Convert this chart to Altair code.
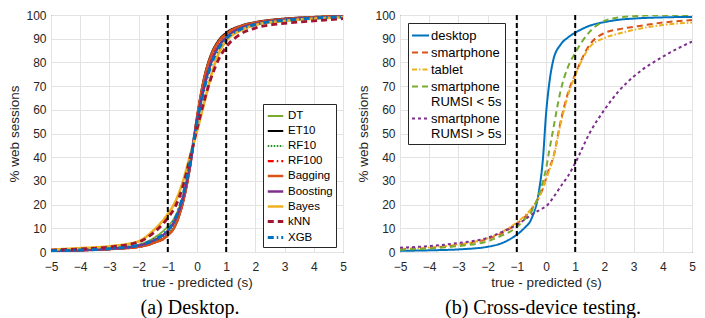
import altair as alt
import pandas as pd

# ---------------- data ----------------
X_L = [-5, -4, -3, -2, -1.5, -1, -0.75, -0.5, -0.25, 0, 0.25, 0.5, 0.75, 1, 1.5, 2, 3, 4, 5]
DT       = [0.5, 0.9, 1.6, 3.1, 5.8, 10.8, 15, 23, 36, 54, 69, 80, 86.5, 90, 94, 96, 98, 98.8, 99.3]
ET10     = [0.4, 0.7, 1.2, 2.2, 3.8, 7.2, 11, 20, 35, 57, 74, 84, 89.5, 92.5, 95.5, 97, 98.5, 99.2, 99.6]
RF10     = [0.5, 0.8, 1.3, 2.4, 4.2, 7.8, 12, 21, 36, 56, 72, 82, 88, 91.5, 95, 96.5, 98.2, 99, 99.4]
RF100    = [0.4, 0.7, 1.2, 2.1, 3.7, 7.0, 11, 20, 35, 56.5, 73, 83, 88.8, 92, 95.2, 96.7, 98.3, 99, 99.5]
BAGGING  = [0.4, 0.7, 1.2, 2.2, 3.8, 7.0, 11, 20, 35, 57, 73.5, 83.5, 89, 92, 95.3, 96.8, 98.3, 99.1, 99.5]
BOOSTING = [0.5, 0.8, 1.4, 2.7, 4.8, 9.0, 13.5, 22, 36, 55, 70, 80.5, 87, 90.5, 94.5, 96.2, 98, 98.8, 99.3]
BAYES    = [1.0, 1.6, 2.4, 4.5, 9.0, 16, 21, 29, 40, 51, 63, 75, 84, 89, 93.5, 95.8, 97.5, 98.5, 99]
KNN      = [0.8, 1.3, 2.1, 4.2, 8.0, 14.4, 19, 27, 39, 52, 64, 74, 81.5, 86.5, 92, 94.5, 96.5, 97.5, 98.5]
XGB      = [0.5, 0.8, 1.4, 2.8, 5.0, 9.4, 14, 23, 37, 55, 69, 79.5, 86, 90, 94, 96, 97.8, 98.7, 99.2]

LEFT_NAMES = ["DT", "ET10", "RF10", "RF100", "Bagging", "Boosting", "Bayes", "kNN", "XGB"]
LEFT_VALUES = [DT, ET10, RF10, RF100, BAGGING, BOOSTING, BAYES, KNN, XGB]
LEFT_COLORS = ["#77AC30", "#000000", "#1E8C1E", "#FF0000", "#D95319", "#7E2F8E", "#EDB120", "#A2142F", "#0072BD"]
LEFT_DASHES = [[1, 0], [1, 0], [1.5, 1.5], [6, 3, 1.5, 3], [1, 0], [1, 0], [1, 0], [6, 4], [6, 3, 1.5, 3]]
LEFT_WIDTHS = [1.8, 3, 1.8, 1.8, 1.8, 1.8, 1.8, 1.8, 1.8]

X_R = [-5, -4, -3, -2, -1.5, -1, -0.75, -0.5, -0.25, -0.1, 0, 0.1, 0.25, 0.5, 0.75, 1, 1.5, 2, 2.5, 3, 4, 5]
DESKTOP    = [0.5, 0.7, 1.1, 2.2, 3.8, 7.3, 10, 14, 25, 40, 58, 70, 81, 87.5, 90.5, 92.5, 95.5, 97, 98, 98.5, 99, 99.2]
SMARTPHONE = [1.2, 1.8, 3, 5.5, 8, 12, 14.5, 18, 23, 27, 31, 35, 40, 55, 67, 75, 87.5, 92.4, 94, 95, 96.8, 97.9]
TABLET     = [1.3, 1.9, 3.2, 5.8, 8.5, 12.5, 15, 18.3, 23, 27, 30.5, 34, 39.5, 54, 66, 74.5, 86.5, 90.3, 92.2, 93.7, 95.8, 96.8]
SP_FAST    = [1, 1.5, 2.5, 4.5, 7, 10.5, 13.5, 17, 24, 30, 35, 42, 52, 68, 78, 84, 93, 97.5, 99, 99.5, 100, 100]
SP_SLOW    = [1.8, 2.5, 3.8, 6, 8.5, 11.5, 13.5, 15.7, 17.5, 18.5, 19.2, 20.5, 23, 27.6, 32, 37.5, 50.3, 60, 68, 74, 82.4, 88.8]

RIGHT_NAMES = ["desktop", "smartphone", "tablet", "smartphone RUMSI < 5s", "smartphone RUMSI > 5s"]
RIGHT_VALUES = [DESKTOP, SMARTPHONE, TABLET, SP_FAST, SP_SLOW]
RIGHT_COLORS = ["#0072BD", "#D95319", "#EDB120", "#77AC30", "#7E2F8E"]
RIGHT_DASHES = [[1, 0], [6, 4], [5, 2, 1.5, 2], [6, 4], [3, 3]]
RIGHT_WIDTHS = [2, 2, 2, 2, 2]

VLINES = [-1, 1]
X_TICKS = [-5, -4, -3, -2, -1, 0, 1, 2, 3, 4, 5]
Y_TICKS = [0, 10, 20, 30, 40, 50, 60, 70, 80, 90, 100]

X_TITLE = "true - predicted (s)"
Y_TITLE = "% web sessions"

# ---------------- tables ----------------
left_rows = []
for name, vals in zip(LEFT_NAMES, LEFT_VALUES):
    for xv, yv in zip(X_L, vals):
        left_rows.append({"model": name, "x": xv, "y": yv})
df_left = pd.DataFrame(left_rows)

right_rows = []
for name, vals in zip(RIGHT_NAMES, RIGHT_VALUES):
    for xv, yv in zip(X_R, vals):
        right_rows.append({"device": name, "x": xv, "y": yv})
df_right = pd.DataFrame(right_rows)

df_v = pd.DataFrame({"x": VLINES})

W, H = 292, 237


def xenc():
    return alt.X("x:Q", scale=alt.Scale(domain=[-5, 5], nice=False),
                 axis=alt.Axis(values=X_TICKS, title=X_TITLE, labelPadding=9, titlePadding=3,
                               labelOverlap=False, labelFlush=False))


def yenc():
    return alt.Y("y:Q", scale=alt.Scale(domain=[0, 100], nice=False),
                 axis=alt.Axis(values=Y_TICKS, title=Y_TITLE, labelPadding=5, titlePadding=4,
                               labelOverlap=False))


def panel(df, field, names, colors, dashes, widths, legend, caption, dx):
    lines = alt.Chart(df).mark_line(interpolate="monotone", clip=True).encode(
        x=xenc(), y=yenc(),
        color=alt.Color(f"{field}:N", scale=alt.Scale(domain=names, range=colors), legend=legend),
        strokeDash=alt.StrokeDash(f"{field}:N", scale=alt.Scale(domain=names, range=dashes), legend=legend),
        strokeWidth=alt.StrokeWidth(f"{field}:N", scale=alt.Scale(domain=names, range=widths), legend=legend),
    )
    rules = alt.Chart(df_v).mark_rule(color="black", strokeWidth=2, strokeDash=[5, 3]).encode(x=xenc())
    return alt.layer(lines, rules).properties(
        width=W, height=H,
        title=alt.TitleParams(caption, orient="bottom", font="Liberation Serif", fontSize=20,
                              fontWeight="normal", color="black", offset=9, frame="group", dx=dx),
    )


left_legend = alt.Legend(orient="none", legendX=212, legendY=89, title=None, fillColor="white",
                         strokeColor="#262626", padding=3, symbolType="stroke", symbolSize=240,
                         labelFontSize=11.5, labelFont="Liberation Sans", labelColor="black",
                         rowPadding=0, labelOffset=3, cornerRadius=0)

right_legend = alt.Legend(orient="none", legendX=8, legendY=8, title=None, fillColor="white",
                          strokeColor="#262626", padding=3, symbolType="stroke", symbolSize=289,
                          labelFontSize=13, labelFont="Liberation Sans", labelColor="black",
                          rowPadding=-1, labelOffset=1, cornerRadius=0, labelLimit=200,
                          labelExpr="indexof(datum.label, 'RUMSI') >= 0 ? [slice(datum.label, 0, 10), slice(datum.label, 11)] : datum.label")

left = panel(df_left, "model", LEFT_NAMES, LEFT_COLORS, LEFT_DASHES, LEFT_WIDTHS, left_legend, "(a) Desktop.", -7)
right = panel(df_right, "device", RIGHT_NAMES, RIGHT_COLORS, RIGHT_DASHES, RIGHT_WIDTHS, right_legend,
              "(b) Cross-device testing.", -3)

chart = alt.hconcat(left, right, spacing=57, bounds="flush").resolve_scale(
    color="independent", strokeDash="independent", strokeWidth="independent", x="independent", y="independent"
).resolve_legend(
    color="independent", strokeDash="independent", strokeWidth="independent"
).properties(
    padding={"left": -1, "top": 0, "right": 0, "bottom": 0}
).configure_axis(
    labelFont="Liberation Sans", labelFontSize=12, labelColor="#262626",
    titleFont="Liberation Sans", titleFontSize=13.5, titleFontWeight="normal", titleColor="#262626",
    gridColor="#e3e3e3", gridWidth=1, domain=False, ticks=False, tickSize=0, labelOverlap=False,
).configure_view(stroke="#262626", strokeWidth=1)

chart.save("out.html", embed_options={"renderer": "svg", "actions": False})
